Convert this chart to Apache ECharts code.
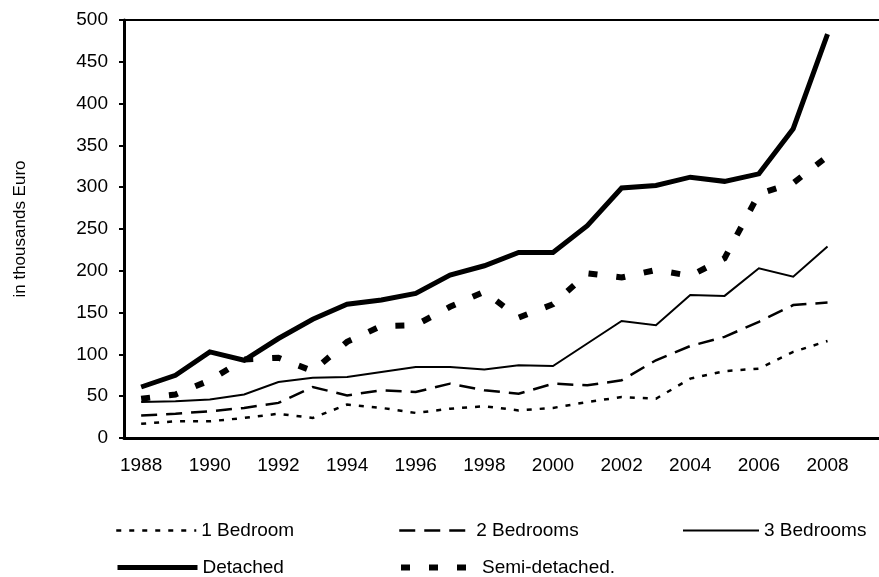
<!DOCTYPE html>
<html>
<head>
<meta charset="utf-8">
<script src="https://cdn.jsdelivr.net/npm/echarts@6/dist/echarts.min.js"></script>
<style>
    html, body { margin: 0; padding: 0; background: #fff; }
    #chart { width: 879px; height: 577px; }
</style>
</head>
<body>
<div id="chart"></div>
<script>
// 2009 is an empty slot: the axis runs on past 2008 and is cut off at the right edge
var years = ['1988','1989','1990','1991','1992','1993','1994','1995','1996','1997','1998',
             '1999','2000','2001','2002','2003','2004','2005','2006','2007','2008','2009'];
var oneBedroom   = [17, 20, 20, 24, 29, 24, 40, 36, 30, 35, 38, 33, 36, 43, 49, 47, 71, 80, 83, 103, 116];
var twoBedrooms  = [27, 29, 32, 36, 42, 61, 51, 57, 55, 65, 57, 53, 65, 63, 69, 93, 110, 121, 139, 159, 162];
var threeBedrooms= [43, 44, 46, 52, 67, 72, 73, 79, 85, 85, 82, 87, 86, 113, 140, 135, 171, 170, 203, 193, 229];
var detached     = [61, 75, 103, 93, 119, 142, 160, 165, 173, 195, 206, 222, 222, 254, 299, 302, 312, 307, 316, 370, 483];
var semiDetached = [47, 52, 69, 94, 96, 80, 115, 134, 135, 157, 175, 144, 160, 197, 192, 201, 194, 215, 292, 305, 337];

var font = 'Liberation Sans, Arial, sans-serif';

function legendItem(name, left, top, w, lw){
    return {
        data: [name],
        left: left,
        top: top,
        padding: 0,
        itemWidth: w,
        itemHeight: 12,
        selectedMode: false,
        itemStyle: { opacity: 0 },   // hide the circle that line legends draw
        lineStyle: { width: lw },    // legend would draw every line 2px wide otherwise
        textStyle: { color: '#000', fontSize: 19, fontFamily: font }
    };
}

function lineSeries(name, data, width, dash){
    return {
        name: name,
        type: 'line',
        data: data,
        symbol: 'none',
        silent: true,
        lineStyle: { color: '#000', width: width, type: dash, cap: 'butt', join: 'miter' },
        itemStyle: { color: '#000' }
    };
}

var chart = echarts.init(document.getElementById('chart'));
var option = {
    animation: false,
    backgroundColor: '#fff',
    grid: { left: 124, top: 20, width: 763.4, height: 418 },
    legend: [
        legendItem('1 Bedroom', 115, 521, 80, 2.5),
        legendItem('2 Bedrooms', 398, 521, 72, 2.5),
        legendItem('3 Bedrooms', 682, 521, 76, 2),
        legendItem('Detached', 115, 558, 80, 5),
        legendItem('Semi-detached.', 398, 558, 76, 6)
    ],
    xAxis: [{
        type: 'category',
        data: years,
        boundaryGap: true,
        axisLine: { lineStyle: { color: '#000', width: 3 } },
        axisTick: { interval: 0, length: 6, lineStyle: { color: '#000', width: 2 } },
        axisLabel: { interval: 1, margin: 18, color: '#000', fontSize: 19, fontFamily: font }
    }, {
        type: 'category',
        data: years,
        position: 'top',
        axisLine: { lineStyle: { color: '#000', width: 2 } },
        axisTick: { show: false },
        axisLabel: { show: false }
    }],
    yAxis: {
        type: 'value',
        min: 0,
        max: 500,
        interval: 50,
        name: 'in thousands Euro',
        nameLocation: 'middle',
        nameGap: 95,
        nameTextStyle: { color: '#000', fontSize: 17, fontFamily: font },
        axisLine: { show: true, lineStyle: { color: '#000', width: 3 } },
        axisTick: { show: true, length: 5, lineStyle: { color: '#000', width: 2 } },
        axisLabel: { margin: 16, color: '#000', fontSize: 19, fontFamily: font },
        splitLine: { show: false }
    },
    series: [
        lineSeries('1 Bedroom', oneBedroom, 2.5, [5, 8]),
        lineSeries('2 Bedrooms', twoBedrooms, 2.5, [16, 9]),
        lineSeries('3 Bedrooms', threeBedrooms, 2, 'solid'),
        lineSeries('Semi-detached.', semiDetached, 6, [9, 19]),
        lineSeries('Detached', detached, 5, 'solid')
    ]
};
chart.setOption(option);
</script>
</body>
</html>
